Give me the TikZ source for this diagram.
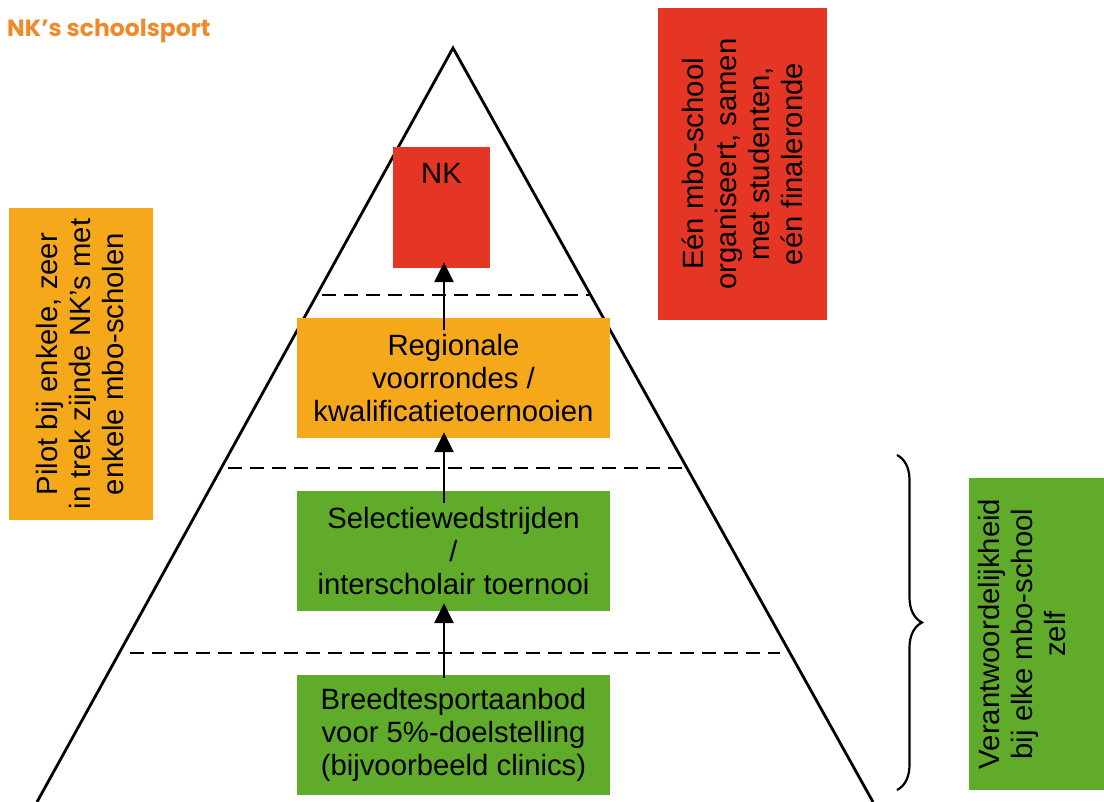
\documentclass[tikz,border=0pt]{standalone}
\usepackage{fontspec}
\setmainfont{Liberation Sans}
\newfontfamily\titlefont{Poppins}
\usetikzlibrary{arrows.meta,decorations.pathreplacing}
\definecolor{cred}{HTML}{E53524}
\definecolor{corange}{HTML}{F5A81A}
\definecolor{cgreen}{HTML}{60AB2A}
\definecolor{ctitle}{HTML}{EF8A2A}
\tikzset{
  txt/.style={font=\fontsize{29.3}{33}\selectfont, align=center, inner sep=0pt},
  levelbox/.style={txt, rectangle, minimum width=313pt, minimum height=120pt},
  sidebox/.style={rectangle, inner sep=0pt},
  vtxt/.style={txt, rotate=90},
  divider/.style={line width=2.8pt, dash pattern=on 14pt off 8pt},
  pyramid/.style={line width=2.8pt},
  arr/.style={line width=2.8pt, -{Triangle[width=19pt,length=20pt]}},
  bracestyle/.style={line width=2.2pt, decorate, decoration={brace, amplitude=25pt}}
}
\begin{document}
\begin{tikzpicture}[x=1pt,y=-1pt]
\useasboundingbox (0,0) rectangle (1104,802);
\clip (0,0) rectangle (1104,802);
% title
\node[anchor=base west, inner sep=0pt, text=ctitle, font=\titlefont\bfseries\fontsize{23.5}{26}\selectfont] (title) at (7,37) {NK’s schoolsport};
% pyramid
\coordinate (apex) at (453,48);
\coordinate (bl) at (37,802);
\coordinate (br) at (873,802);
\draw[pyramid] (bl) -- (apex) -- (br);
% dividers
\coordinate (d1a) at (322,295); \coordinate (d1b) at (589,295);
\coordinate (d2a) at (228,468); \coordinate (d2b) at (686,468);
\coordinate (d3a) at (130,653); \coordinate (d3b) at (780,653);
\draw[divider] (d1a) -- (d1b);
\draw[divider] (d2a) -- (d2b);
\draw[divider] (d3a) -- (d3b);
% level boxes
\node[rectangle, fill=cred, minimum width=97pt, minimum height=121pt, inner sep=0pt] (nk) at (441.5,207.5) {};
\node[txt, anchor=base] (nklabel) at (441.5,184) {NK};
\node[levelbox, fill=corange] (reg) at (453.5,378) {Regionale\\voorrondes /\\kwalificatietoernooien};
\node[levelbox, fill=cgreen] (sel) at (453.5,551) {Selectiewedstrijden\\/\\interscholair toernooi};
\node[levelbox, fill=cgreen] (breed) at (453.5,735) {Breedtesportaanbod\\voor 5\%-doelstelling\\(bijvoorbeeld clinics)};
% arrows
\coordinate (ax) at (444,0);
\draw[arr, shorten <=-12pt, shorten >=-6pt] (reg.north -| ax) -- (nk.south -| ax);
\draw[arr, shorten <=-12pt, shorten >=-6pt] (sel.north -| ax) -- (reg.south -| ax);
\draw[arr, shorten <=-3pt, shorten >=-8pt] (breed.north -| ax) -- (sel.south -| ax);
% side boxes
\fill[corange] (9,208) rectangle (153,520);
\node[vtxt] (pilot) at (80,364) {Pilot bij enkele, zeer\\in trek zijnde NK’s met\\enkele mbo-scholen};
\fill[cred] (658,8) rectangle (827,320);
\node[vtxt] (final) at (742.5,164) {Eén mbo-school\\organiseert, samen\\met studenten,\\eén finaleronde};
\fill[cgreen] (969,478) rectangle (1104,790);
\node[vtxt] (resp) at (1022,634) {Verantwoordelijkheid\\bij elke mbo-school\\zelf};
% brace
\coordinate (bt) at (897,455);
\coordinate (bb) at (897,790);
\draw[bracestyle] (bt) -- (bb);
\end{tikzpicture}
\end{document}
